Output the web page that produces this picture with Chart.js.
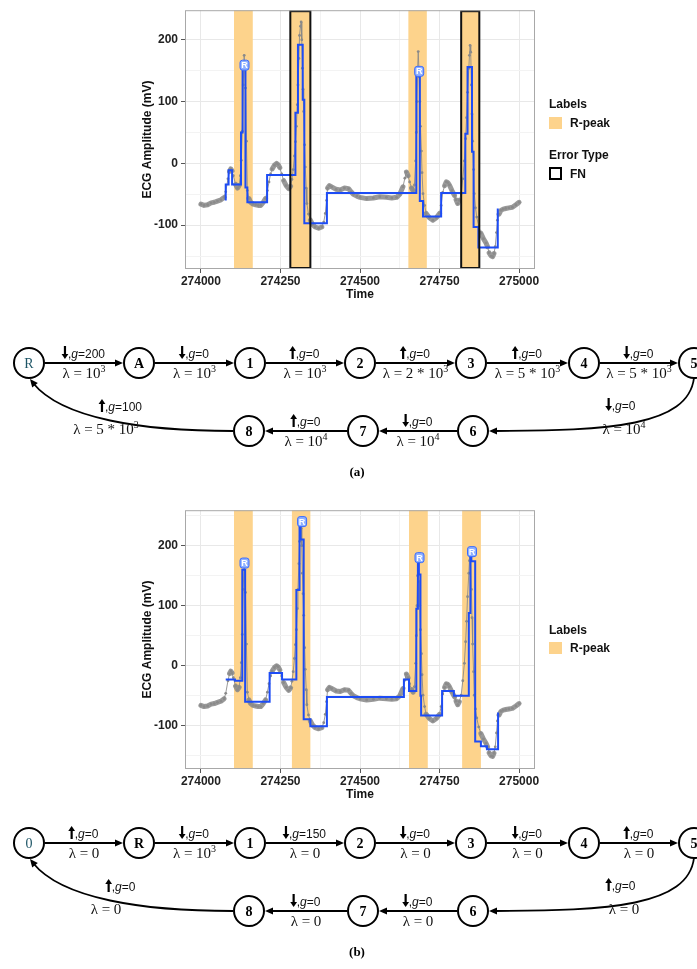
<!DOCTYPE html>
<html><head><meta charset="utf-8">
<script src="https://cdn.jsdelivr.net/npm/chart.js@4.4.1/dist/chart.umd.min.js"></script>
<style>
body{margin:0;background:#fff;width:697px;height:969px;position:relative;overflow:hidden;font-family:"Liberation Sans",Arial,sans-serif;}
.cv{position:absolute;left:0;width:697px;height:310px;}
.leg{position:absolute;font-weight:bold;font-size:12px;line-height:14px;color:#111;white-space:nowrap;}
.sw{position:absolute;width:13px;height:12px;background:#FDD38C;}
.fn{position:absolute;width:9px;height:9px;border:2px solid #000;background:#fff;}
</style></head><body>
<div class="cv" style="top:0"><canvas id="ca" width="697" height="310"></canvas></div>
<div class="cv" style="top:500px"><canvas id="cb" width="697" height="310"></canvas></div>

<div class="leg" style="left:549px;top:97px">Labels</div>
<div class="sw" style="left:549px;top:117px"></div>
<div class="leg" style="left:570px;top:116px">R-peak</div>
<div class="leg" style="left:549px;top:148px">Error Type</div>
<div class="fn" style="left:549px;top:167px"></div>
<div class="leg" style="left:570px;top:167px">FN</div>

<div class="leg" style="left:549px;top:623px">Labels</div>
<div class="sw" style="left:549px;top:642px"></div>
<div class="leg" style="left:570px;top:641px">R-peak</div>

<svg id="diag" width="697" height="969" style="position:absolute;left:0;top:0"></svg>

<script>
// ---------------- DATA ----------------
const ecgTime = [274000,274010,274021,274032,274042,274052,274063,274073,274078,274085,274090,274094,274098,274102,274109,274115,274120,274124,274127,274130,274133,274136,274140,274143,274146,274151,274156,274164,274172,274180,274188,274196,274203,274209,274214,274219,274224,274231,274238,274243,274248,274254,274260,274268,274276,274282,274286,274290,274294,274297,274300,274303,274305,274308,274310,274313,274315,274317,274319,274321,274323,274326,274328,274331,274333,274338,274344,274351,274359,274370,274380,274386,274391,274395,274398,274404,274411,274425,274438,274451,274464,274472,274479,274490,274500,274521,274542,274562,274583,274600,274615,274625,274635,274641,274646,274651,274656,274662,274667,274671,274675,274677,274679,274681,274683,274686,274688,274690,274693,274695,274698,274703,274708,274718,274729,274740,274750,274755,274760,274766,274771,274776,274781,274789,274797,274802,274807,274812,274818,274823,274828,274832,274835,274838,274842,274844,274846,274848,274850,274852,274854,274857,274859,274863,274867,274873,274880,274888,274896,274901,274906,274912,274917,274921,274925,274929,274932,274937,274943,274950,274958,274968,274979,274990,275000];
const ecgValue = [-66,-68,-67,-64,-63,-61,-59,-55,-46,-25,-13,-9,-12,-20,-34,-40,-36,-20,5,52,127,175,122,36,-44,-57,-63,-66,-67,-68,-68,-63,-57,-44,-30,-17,-9,-3,0,-2,-7,-17,-28,-36,-41,-37,-26,-10,12,35,60,95,127,170,207,222,229,200,154,120,84,30,-6,-40,-65,-82,-92,-99,-103,-105,-103,-95,-81,-60,-40,-36,-38,-42,-43,-40,-41,-46,-50,-53,-55,-57,-56,-54,-55,-56,-55,-50,-38,-24,-14,-20,-30,-40,-44,-35,4,50,100,150,181,140,100,60,20,-15,-49,-68,-81,-88,-92,-88,-81,-68,-47,-36,-30,-31,-35,-44,-52,-59,-65,-60,-49,-25,4,40,74,115,154,175,191,180,127,80,36,-10,-49,-72,-87,-102,-113,-122,-129,-135,-145,-150,-151,-146,-135,-112,-92,-82,-76,-74,-73,-72,-71,-67,-63];

// step fit (a): each point = start of a level
const stepATime  = [274078,274078,274087,274098,274126,274131,274140,274146,274208,274297,274305,274320,274325,274396,274677,274688,274698,274755,274831,274838,274852,274857,274872,274933];
const stepALevel = [-60,-34,-11,-34,50,160,-39,-63,-19,82,192,103,-97,-48,147,-61,-86,-48,48,156,19,-103,-136,-73];
// step fit (b)
const stepBTime  = [274078,274107,274130,274139,274216,274255,274300,274310,274313,274323,274344,274396,274638,274654,274677,274682,274685,274690,274692,274758,274795,274842,274847,274850,274862,274880,274899,274934];
const stepBLevel = [-23,-25,160,-60,-12,-23,126,232,210,-89,-101,-52,-23,-42,95,174,152,-50,-83,-42,-50,88,181,174,-126,-134,-139,-78];

// R-peak label bands
const bandAStart = [274104,274281,274652,274818];
const bandAEnd   = [274163,274344,274710,274875];
const bandAFN    = [false,true,false,true];
const bandBStart = [274104,274286,274654,274821];
const bandBEnd   = [274163,274344,274713,274880];
const bandBFN    = [false,false,false,false];

// detected R markers
const rAT = [274137,274686], rAV = [159,149];
const rBT = [274137,274318,274687,274852], rBV = [171,240,180,190];

// axis ranges / ticks
const xRange = [273950,275050];
const yRangeA = [-171,248];
const yRangeB = [-172,259];
const xMajor = 250, yMajor = 100;

// state diagrams
const diagA = {
  row1: ['R','A','1','2','3','4','5'], row2: ['8','7','6'], teal: 'R',
  dir1: ['d','d','u','u','u','d'], g1: ['200','0','0','0','0','0'],
  lam1: ['10^3','10^3','10^3','2 * 10^3','5 * 10^3','5 * 10^3'],
  arcR: ['d','0','10^4'], dir2: ['d','u'], g2: ['0','0'], lam2: ['10^4','10^4'],
  arcL: ['u','100','5 * 10^3'], caption: '(a)'
};
const diagB = {
  row1: ['0','R','1','2','3','4','5'], row2: ['8','7','6'], teal: '0',
  dir1: ['u','d','d','d','d','u'], g1: ['0','0','150','0','0','0'],
  lam1: ['0','10^3','0','0','0','0'],
  arcR: ['u','0','0'], dir2: ['d','d'], g2: ['0','0'], lam2: ['0','0'],
  arcL: ['u','0','0'], caption: '(b)'
};

// ---------------- CHARTS ----------------
const BAND = '#FDD38C';
function overlay(starts, ends, fns, rt, rv) {
  return {
    id: 'overlay',
    beforeDatasetsDraw(chart) {
      const {ctx, chartArea: a, scales: {x}} = chart;
      ctx.save(); ctx.fillStyle = BAND;
      for (let i = 0; i < starts.length; i++) {
        const x0 = x.getPixelForValue(starts[i]), x1 = x.getPixelForValue(ends[i]);
        ctx.fillRect(x0, a.top, x1 - x0, a.bottom - a.top);
      }
      ctx.restore();
    },
    afterDatasetsDraw(chart) {
      const {ctx, chartArea: a, scales: {x, y}} = chart;
      ctx.save();
      ctx.strokeStyle = '#111'; ctx.lineWidth = 2;
      for (let i = 0; i < starts.length; i++) {
        if (!fns[i]) continue;
        const x0 = x.getPixelForValue(starts[i]), x1 = x.getPixelForValue(ends[i]);
        ctx.strokeRect(x0, a.top + 1, x1 - x0, a.bottom - a.top - 2);
      }
      for (let i = 0; i < rt.length; i++) {
        const px = x.getPixelForValue(rt[i]), py = y.getPixelForValue(rv[i]);
        ctx.beginPath();
        if (ctx.roundRect) ctx.roundRect(px - 4.5, py - 5, 9, 10, 2.5); else ctx.rect(px - 4.5, py - 5, 9, 10);
        ctx.fillStyle = '#8fb0ff'; ctx.fill();
        ctx.strokeStyle = '#3a6cff'; ctx.lineWidth = 1; ctx.stroke();
        ctx.fillStyle = '#fff'; ctx.font = 'bold 9px "Liberation Sans"';
        ctx.textAlign = 'center'; ctx.textBaseline = 'middle';
        ctx.fillText('R', px, py + 0.5);
      }
      ctx.strokeStyle = '#a8a8a8'; ctx.lineWidth = 1;
      ctx.strokeRect(a.left + 0.5, a.top + 0.5, a.right - a.left - 1, a.bottom - a.top - 1);
      ctx.restore();
    }
  };
}

function makeChart(id, yRange, stepT, stepV, starts, ends, fns, rt, rv) {
  const gray = ecgTime.map((t, i) => ({x: t, y: ecgValue[i]}));
  const step = stepT.map((t, i) => ({x: t, y: stepV[i]}));
  const tickFont = {family: '"Liberation Sans", Arial', size: 12, weight: 'bold'};
  return new Chart(document.getElementById(id), {
    type: 'line',
    data: {datasets: [
      {data: step, stepped: 'before', borderColor: '#1d4cf5', borderWidth: 2, pointRadius: 0, order: 0},
      {data: gray, borderColor: 'rgba(135,135,135,0.85)', borderWidth: 5, pointRadius: 1.4,
       pointBackgroundColor: '#8a8a8a', pointBorderWidth: 0, order: 1, borderJoinStyle: 'round', borderCapStyle: 'round',
       segment: {borderWidth: c => {
         const dx = Math.abs(c.p1.x - c.p0.x), dy = Math.abs(c.p1.y - c.p0.y);
         return dy > 2.5 * dx ? 1 : 5; }}}
    ]},
    options: {
      responsive: false, animation: false, events: [],
      layout: {padding: {left: 140, right: 162, top: 8, bottom: 6}},
      plugins: {legend: {display: false}, tooltip: {enabled: false}},
      scales: {
        x: {type: 'linear', min: xRange[0], max: xRange[1],
          afterFit: s => { s.height = 35; },
          border: {display: false},
          grid: {color: c => (c.tick && c.tick.value % xMajor === 0) ? '#e8e8e8' : '#f3f3f3',
                 tickColor: c => (c.tick && c.tick.value % xMajor === 0) ? '#555' : 'rgba(0,0,0,0)',
                 tickLength: 4},
          ticks: {stepSize: 125, includeBounds: false, autoSkip: false, maxRotation: 0, padding: 1,
                  color: '#222', font: tickFont,
                  callback: v => v % xMajor === 0 ? String(v) : ''},
          title: {display: true, text: 'Time', color: '#111', font: tickFont, padding: {top: 0, bottom: 2}}
        },
        y: {type: 'linear', min: yRange[0], max: yRange[1],
          afterFit: s => { s.width = 45; },
          border: {display: false},
          grid: {color: c => (c.tick && c.tick.value % yMajor === 0) ? '#e8e8e8' : '#f3f3f3',
                 tickColor: c => (c.tick && c.tick.value % yMajor === 0) ? '#555' : 'rgba(0,0,0,0)',
                 tickLength: 4},
          ticks: {stepSize: 50, includeBounds: false, autoSkip: false, padding: 3,
                  color: '#222', font: tickFont,
                  callback: v => v % yMajor === 0 ? String(v) : ''},
          title: {display: true, text: 'ECG Amplitude (mV)', color: '#111', font: tickFont, padding: 0}
        }
      }
    },
    plugins: [overlay(starts, ends, fns, rt, rv)]
  });
}
makeChart('ca', yRangeA, stepATime, stepALevel, bandAStart, bandAEnd, bandAFN, rAT, rAV);
makeChart('cb', yRangeB, stepBTime, stepBLevel, bandBStart, bandBEnd, bandBFN, rBT, rBV);

// ---------------- DIAGRAMS ----------------
const NS = 'http://www.w3.org/2000/svg';
const svg = document.getElementById('diag');
function el(tag, attrs, parent, text) {
  const e = document.createElementNS(NS, tag);
  for (const k in attrs) e.setAttribute(k, attrs[k]);
  if (text !== undefined) e.textContent = text;
  (parent || svg).appendChild(e);
  return e;
}
const row1X = [29, 139, 250, 360, 471, 584, 694];
const row2X = [249, 363, 473];
const R = 15;
const SERIF = '"Liberation Serif","DejaVu Serif",serif';

function arrowHead(tx, ty, ang) {
  const L = 8, W = 3.6;
  const bx = tx - L * Math.cos(ang), by = ty - L * Math.sin(ang);
  const nx = -Math.sin(ang), ny = Math.cos(ang);
  el('polygon', {points: `${tx},${ty} ${bx + nx * W},${by + ny * W} ${bx - nx * W},${by - ny * W}`, fill: '#000'});
}
function glyph(x, yTop, yBot, dir) {
  if (dir === 'd') {
    el('line', {x1: x, y1: yTop, x2: x, y2: yBot - 4, stroke: '#000', 'stroke-width': 2.2});
    el('polygon', {points: `${x - 3.4},${yBot - 5} ${x + 3.4},${yBot - 5} ${x},${yBot}`, fill: '#000'});
  } else {
    el('line', {x1: x, y1: yTop + 4, x2: x, y2: yBot, stroke: '#000', 'stroke-width': 2.2});
    el('polygon', {points: `${x - 3.4},${yTop + 5} ${x + 3.4},${yTop + 5} ${x},${yTop}`, fill: '#000'});
  }
}
function gLabel(cx, baseY, dir, g) {
  const t = el('text', {x: 0, y: baseY, 'font-family': '"Liberation Sans",Arial,sans-serif', 'font-size': 12, fill: '#111'});
  el('tspan', {}, t, ',');
  el('tspan', {'font-style': 'italic'}, t, 'g');
  el('tspan', {}, t, '=' + g);
  const w = t.getComputedTextLength();
  const total = w + 5;
  const x0 = cx - total / 2;
  t.setAttribute('x', x0 + 5);
  glyph(x0 + 2, baseY - 12, baseY + 1, dir);
}
function lamLabel(cx, baseY, lam) {
  const t = el('text', {x: cx, y: baseY, 'text-anchor': 'middle', 'font-family': SERIF, 'font-size': 15, fill: '#111'});
  const parts = lam.split('^');
  el('tspan', {}, t, 'λ = ' + parts[0]);
  if (parts[1]) el('tspan', {dy: -6, 'font-size': 10}, t, parts[1]);
}
function node(x, y, lab, teal) {
  el('circle', {cx: x, cy: y, r: R, fill: '#fff', stroke: '#000', 'stroke-width': 2});
  el('text', {x: x, y: y + 5, 'text-anchor': 'middle', 'font-family': SERIF, 'font-size': 14,
    'font-weight': teal ? 'normal' : 'bold', fill: teal ? '#1d5566' : '#000'}, null, lab);
}
function drawDiagram(d, y1, y2, capY) {
  // row 1 edges
  for (let i = 0; i < 6; i++) {
    const xa = row1X[i] + R + 1, xb = row1X[i + 1] - R - 1;
    el('line', {x1: xa, y1: y1, x2: xb - 6, y2: y1, stroke: '#000', 'stroke-width': 1.8});
    arrowHead(xb, y1, 0);
    const mid = (row1X[i] + row1X[i + 1]) / 2;
    gLabel(mid, y1 - 5, d.dir1[i], d.g1[i]);
    lamLabel(mid, y1 + 15, d.lam1[i]);
  }
  // row 2 edges (6->7, 7->8)
  for (let i = 0; i < 2; i++) {
    const xa = row2X[2 - i] - R - 1, xb = row2X[1 - i] + R + 1;
    el('line', {x1: xa, y1: y2, x2: xb + 6, y2: y2, stroke: '#000', 'stroke-width': 1.8});
    arrowHead(xb, y2, Math.PI);
    const mid = (row2X[2 - i] + row2X[1 - i]) / 2;
    gLabel(mid, y2 - 5, d.dir2[i], d.g2[i]);
    lamLabel(mid, y2 + 15, d.lam2[i]);
  }
  // arc 5 -> 6
  const ex = row2X[2] + R + 1;
  el('path', {d: `M ${row1X[6]} ${y1 + R} C ${row1X[6] - 6} ${y2 - 5}, ${ex + 120} ${y2}, ${ex + 6} ${y2}`, fill: 'none', stroke: '#000', 'stroke-width': 1.8});
  arrowHead(ex, y2, Math.PI);
  gLabel(621, y2 - 21, d.arcR[0], d.arcR[1]);
  lamLabel(624, y2 + 3, d.arcR[2]);
  // arc 8 -> first node
  const sx = row2X[0] - R - 1;
  const tx = row1X[0] + 1, ty = y1 + R + 1;
  const c2x = 62, c2y = y2 - 12;
  el('path', {d: `M ${sx} ${y2} C ${sx - 90} ${y2}, ${c2x} ${c2y}, ${tx + 3} ${ty + 4}`, fill: 'none', stroke: '#000', 'stroke-width': 1.8});
  arrowHead(tx, ty, Math.atan2(ty - c2y, tx - c2x));
  gLabel(121, y2 - 20, d.arcL[0], d.arcL[1]);
  lamLabel(106, y2 + 3, d.arcL[2]);
  // nodes
  d.row1.forEach((lab, i) => node(row1X[i], y1, lab, lab === d.teal && i === 0));
  d.row2.forEach((lab, i) => node(row2X[i], y2, lab, false));
  el('text', {x: 357, y: capY, 'text-anchor': 'middle', 'font-family': SERIF, 'font-size': 13, 'font-weight': 'bold', fill: '#000'}, null, d.caption);
}
drawDiagram(diagA, 363, 431, 476);
drawDiagram(diagB, 843, 911, 956);
</script>
</body></html>
